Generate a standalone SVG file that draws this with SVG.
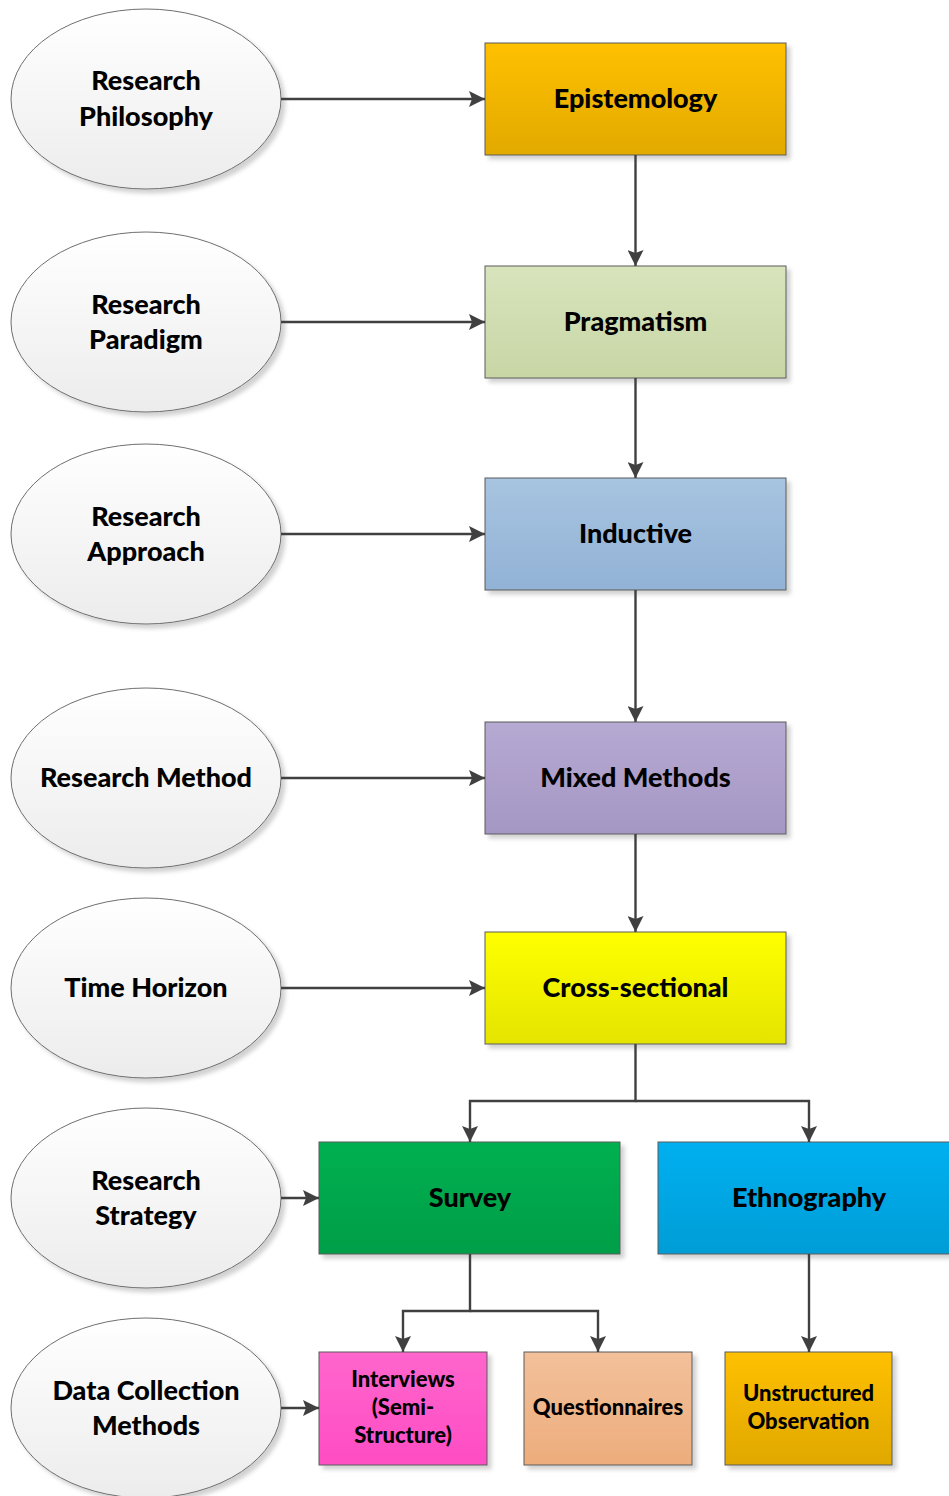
<svg xmlns="http://www.w3.org/2000/svg" width="949" height="1496" viewBox="0 0 949 1496">
  <style>
    .oval { fill: url(#gOval); stroke: #6e6e6e; stroke-width: 1; filter: url(#shadow); }
    .box { stroke: #5a5a5a; stroke-width: 1; filter: url(#shadow); }
    .lbl { font-family: Lato, "Open Sans", sans-serif; font-weight: 900; font-size: 27px; fill: #000; text-anchor: middle; }
    .sm { font-size: 22px; }
    .wire { fill: none; stroke: #404040; stroke-width: 2.4; }
  </style>
  <defs>
    <filter id="shadow" x="-10%" y="-10%" width="125%" height="125%">
      <feOffset in="SourceAlpha" dx="4" dy="4" result="o"/>
      <feGaussianBlur in="o" stdDeviation="2" result="b"/>
      <feColorMatrix in="b" type="matrix" values="0 0 0 0 0  0 0 0 0 0  0 0 0 0 0  0 0 0 0.18 0" result="s"/>
      <feMerge><feMergeNode in="s"/><feMergeNode in="SourceGraphic"/></feMerge>
    </filter>
    <marker id="arr" viewBox="0 0 16 16" refX="16" refY="8" markerWidth="16" markerHeight="16" markerUnits="userSpaceOnUse" orient="auto">
      <path d="M0,0 L16,8 L0,16 L3,8 Z" fill="#404040"/>
    </marker>
    <linearGradient id="gOval" x1="0" y1="0" x2="0" y2="1"><stop offset="0" stop-color="#ffffff"/><stop offset="1" stop-color="#ececec"/></linearGradient>
    <linearGradient id="gEpi" x1="0" y1="0" x2="0" y2="1"><stop offset="0" stop-color="#ffc000"/><stop offset="1" stop-color="#e2aa00"/></linearGradient>
    <linearGradient id="gPrag" x1="0" y1="0" x2="0" y2="1"><stop offset="0" stop-color="#d8e4bc"/><stop offset="1" stop-color="#c8d6a6"/></linearGradient>
    <linearGradient id="gInd" x1="0" y1="0" x2="0" y2="1"><stop offset="0" stop-color="#a7c4e0"/><stop offset="1" stop-color="#92b2d6"/></linearGradient>
    <linearGradient id="gMix" x1="0" y1="0" x2="0" y2="1"><stop offset="0" stop-color="#b6a9d2"/><stop offset="1" stop-color="#a597c4"/></linearGradient>
    <linearGradient id="gCross" x1="0" y1="0" x2="0" y2="1"><stop offset="0" stop-color="#ffff00"/><stop offset="1" stop-color="#e4e400"/></linearGradient>
    <linearGradient id="gSurvey" x1="0" y1="0" x2="0" y2="1"><stop offset="0" stop-color="#00b050"/><stop offset="1" stop-color="#009e48"/></linearGradient>
    <linearGradient id="gEth" x1="0" y1="0" x2="0" y2="1"><stop offset="0" stop-color="#00b0f0"/><stop offset="1" stop-color="#009dd6"/></linearGradient>
    <linearGradient id="gInt" x1="0" y1="0" x2="0" y2="1"><stop offset="0" stop-color="#ff66cc"/><stop offset="1" stop-color="#ff4cc4"/></linearGradient>
    <linearGradient id="gQ" x1="0" y1="0" x2="0" y2="1"><stop offset="0" stop-color="#f2c09a"/><stop offset="1" stop-color="#edad7c"/></linearGradient>
    <linearGradient id="gUn" x1="0" y1="0" x2="0" y2="1"><stop offset="0" stop-color="#ffc000"/><stop offset="1" stop-color="#e0a800"/></linearGradient>
  </defs>

  <!-- left column: layer names -->
  <g id="philosophy"><ellipse class="oval" cx="146" cy="99" rx="135" ry="90"/>
    <text class="lbl" x="146" y="90">Research</text><text class="lbl" x="146" y="126">Philosophy</text></g>
  <g id="paradigm"><ellipse class="oval" cx="146" cy="322" rx="135" ry="90"/>
    <text class="lbl" x="146" y="314">Research</text><text class="lbl" x="146" y="349">Paradigm</text></g>
  <g id="approach"><ellipse class="oval" cx="146" cy="534" rx="135" ry="90"/>
    <text class="lbl" x="146" y="526">Research</text><text class="lbl" x="146" y="561">Approach</text></g>
  <g id="method"><ellipse class="oval" cx="146" cy="778" rx="135" ry="90"/>
    <text class="lbl" x="146" y="787">Research Method</text></g>
  <g id="horizon"><ellipse class="oval" cx="146" cy="988" rx="135" ry="90"/>
    <text class="lbl" x="146" y="997">Time Horizon</text></g>
  <g id="strategy"><ellipse class="oval" cx="146" cy="1198" rx="135" ry="90"/>
    <text class="lbl" x="146" y="1190">Research</text><text class="lbl" x="146" y="1225">Strategy</text></g>
  <g id="datacollection"><ellipse class="oval" cx="146" cy="1408" rx="135" ry="90"/>
    <text class="lbl" x="146" y="1400">Data Collection</text><text class="lbl" x="146" y="1435">Methods</text></g>

  <!-- right column: choices -->
  <g id="epistemology"><rect class="box" x="485" y="43" width="301" height="112" fill="url(#gEpi)"/>
    <text class="lbl" x="635.5" y="108">Epistemology</text></g>
  <g id="pragmatism"><rect class="box" x="485" y="266" width="301" height="112" fill="url(#gPrag)"/>
    <text class="lbl" x="635.5" y="331">Pragmatism</text></g>
  <g id="inductive"><rect class="box" x="485" y="478" width="301" height="112" fill="url(#gInd)"/>
    <text class="lbl" x="635.5" y="543">Inductive</text></g>
  <g id="mixed"><rect class="box" x="485" y="722" width="301" height="112" fill="url(#gMix)"/>
    <text class="lbl" x="635.5" y="787">Mixed Methods</text></g>
  <g id="crosssectional"><rect class="box" x="485" y="932" width="301" height="112" fill="url(#gCross)"/>
    <text class="lbl" x="635.5" y="997">Cross-sectional</text></g>
  <g id="survey"><rect class="box" x="319" y="1142" width="301" height="112" fill="url(#gSurvey)"/>
    <text class="lbl" x="470" y="1207">Survey</text></g>
  <g id="ethnography"><rect class="box" x="658" y="1142" width="301" height="112" fill="url(#gEth)"/>
    <text class="lbl" x="809" y="1207">Ethnography</text></g>
  <g id="interviews"><rect class="box" x="319" y="1352" width="168" height="113" fill="url(#gInt)"/>
    <text class="lbl sm" x="403" y="1387">Interviews</text><text class="lbl sm" x="403" y="1415">(Semi-</text><text class="lbl sm" x="403" y="1443">Structure)</text></g>
  <g id="questionnaires"><rect class="box" x="524" y="1352" width="168" height="113" fill="url(#gQ)"/>
    <text class="lbl sm" x="608" y="1415">Questionnaires</text></g>
  <g id="unstructured"><rect class="box" x="725" y="1352" width="167" height="113" fill="url(#gUn)"/>
    <text class="lbl sm" x="808.5" y="1401">Unstructured</text><text class="lbl sm" x="808.5" y="1429">Observation</text></g>

  <!-- connectors -->
  <g id="connectors">
    <path class="wire" marker-end="url(#arr)" d="M281,99 H485"/>
    <path class="wire" marker-end="url(#arr)" d="M281,322 H485"/>
    <path class="wire" marker-end="url(#arr)" d="M281,534 H485"/>
    <path class="wire" marker-end="url(#arr)" d="M281,778 H485"/>
    <path class="wire" marker-end="url(#arr)" d="M281,988 H485"/>
    <path class="wire" marker-end="url(#arr)" d="M281,1198 H319"/>
    <path class="wire" marker-end="url(#arr)" d="M281,1408 H319"/>
    <path class="wire" marker-end="url(#arr)" d="M635.5,155 V266"/>
    <path class="wire" marker-end="url(#arr)" d="M635.5,378 V478"/>
    <path class="wire" marker-end="url(#arr)" d="M635.5,590 V722"/>
    <path class="wire" marker-end="url(#arr)" d="M635.5,834 V932"/>
    <path class="wire" marker-end="url(#arr)" d="M635.5,1044 V1101 H470 V1142"/>
    <path class="wire" marker-end="url(#arr)" d="M635.5,1101 H809 V1142"/>
    <path class="wire" marker-end="url(#arr)" d="M470,1254 V1311 H403 V1352"/>
    <path class="wire" marker-end="url(#arr)" d="M470,1311 H598 V1352"/>
    <path class="wire" marker-end="url(#arr)" d="M809,1254 V1352"/>
  </g>
</svg>
